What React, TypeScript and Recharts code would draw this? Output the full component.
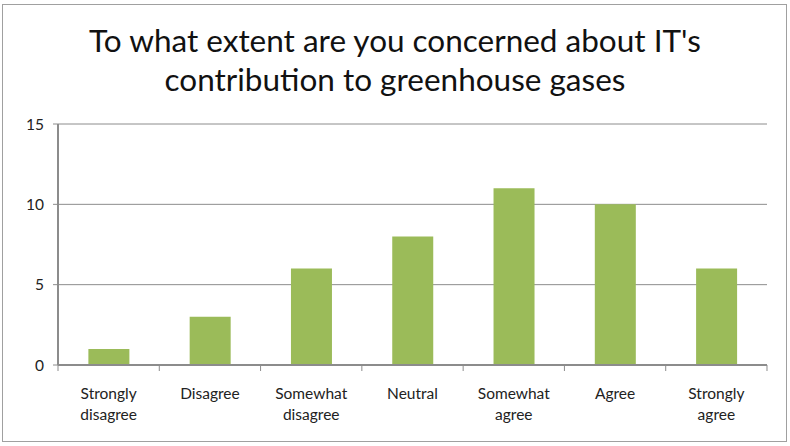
import { BarChart, Bar, XAxis, YAxis, CartesianGrid } from "recharts";

const categories = ["Strongly disagree", "Disagree", "Somewhat disagree", "Neutral", "Somewhat agree", "Agree", "Strongly agree"];
const counts = [1, 3, 6, 8, 11, 10, 6];
const yTicks = [0, 5, 10, 15];

const data = categories.map((name, i) => ({ name, value: counts[i] }));

const FONT = "Lato, 'Open Sans', sans-serif";
const AXIS = "#8c8c8c";

function CategoryTick({ x, y, payload, index, visibleTicksCount }: any) {
  const words = String(payload.value).split(" ");
  const half = payload.offset || 0;
  const last = index === visibleTicksCount - 1;
  return (
    <g transform={`translate(${x},${y})`}>
      <line x1={-half} x2={-half} y1={-8} y2={-2} stroke={AXIS} />
      {last && <line x1={half} x2={half} y1={-8} y2={-2} stroke={AXIS} />}
      {words.map((w: string, i: number) => (
        <text key={i} x={0} y={26 + i * 21} textAnchor="middle" fill="#222" fontSize={15.5} fontFamily={FONT}>
          {w}
        </text>
      ))}
    </g>
  );
}

export default function App() {
  return (
    <div style={{ position: "absolute", left: 0, top: 0, width: 790, height: 446, background: "#fff" }}>
      <div
        style={{
          position: "absolute", left: 2, top: 4, width: 785, height: 438,
          border: "1px solid #a0a0a0", boxSizing: "border-box",
        }}
      />
      <div
        style={{
          position: "absolute", left: 0, top: 21, width: 790, textAlign: "center",
          fontFamily: FONT, fontSize: 31.5, lineHeight: "39px", color: "#111",
        }}
      >
        To what extent are you concerned about IT's
        <br />
        contribution to greenhouse gases
      </div>
      <BarChart
        width={790}
        height={446}
        data={data}
        margin={{ top: 124, right: 23, bottom: 80, left: 8 }}
        barCategoryGap="30%"
        style={{ position: "absolute", left: 0, top: 0 }}
      >
        <CartesianGrid vertical={false} stroke={AXIS} strokeWidth={1} />
        <XAxis
          dataKey="name"
          tick={<CategoryTick />}
          tickLine={false}
          axisLine={{ stroke: AXIS, strokeWidth: 2 }}
          interval={0}
          height={1}
        />
        <YAxis
          width={50}
          domain={[0, 15]}
          ticks={yTicks}
          tickSize={5}
          tickLine={{ stroke: AXIS, strokeWidth: 1 }}
          axisLine={{ stroke: AXIS, strokeWidth: 2 }}
          tick={{ fill: "#222", fontSize: 15.5, fontFamily: FONT }}
          tickMargin={9}
        />
        <Bar dataKey="value" fill="#9bbb59" isAnimationActive={false} />
      </BarChart>
    </div>
  );
}
